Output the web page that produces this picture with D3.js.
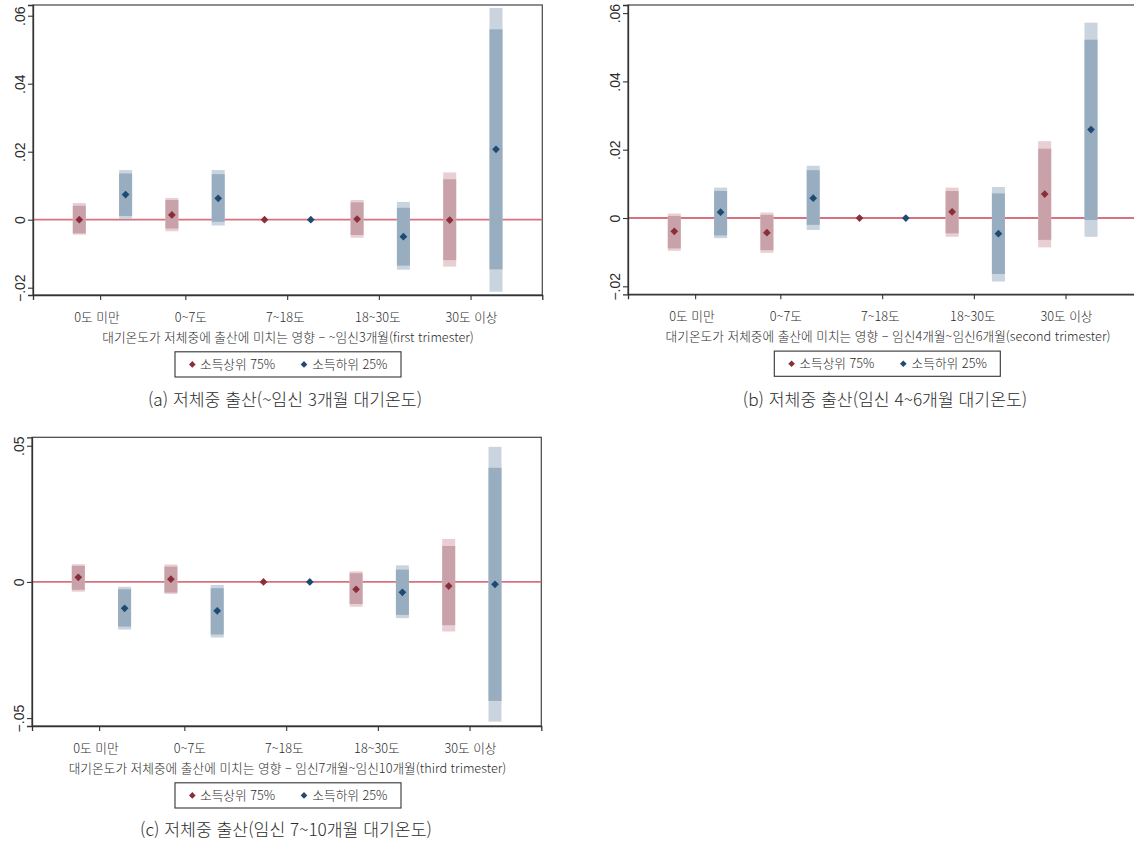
<!DOCTYPE html>
<html lang="ko">
<head>
<meta charset="utf-8">
<script src="https://cdn.jsdelivr.net/npm/d3@7"></script>
<style>
  html, body { margin: 0; padding: 0; background: #fff; }
  svg { display: block; }
  .kr { font-family: "Noto Sans CJK KR", "Noto Sans", sans-serif; font-weight: 300; fill: #2b2b2b; }
  .num { font-family: "Liberation Sans", Arial, sans-serif; fill: #2b2b2b; }
</style>
</head>
<body>
<svg id="chart" width="1134" height="843"></svg>
<script>
// Temperature bins (x-axis categories) and where their ticks / labels sit on the slot axis
const categories = ["0도 미만", "0~7도", "7~18도", "18~30도", "30도 이상"];
const categoryTickPos = [1.45, 3.29, 5.49, 7.47, 9.45];
const categoryLabelPos = [1.38, 3.41, 5.45, 7.45, 9.47];

const seriesNames = ["소득상위 75%", "소득하위 25%"];

// Panel (a): first trimester — estimate, inner CI [lo, hi], outer CI [lo, hi]; reference bin has no CI
const aHighEst   = [0.0000, 0.0014, 0.0000, 0.0002, -0.0001];
const aHighInner = [[-0.0040, 0.0041], [-0.0026, 0.0058], null, [-0.0045, 0.0051], [-0.0119, 0.0119]];
const aHighOuter = [[-0.0044, 0.0049], [-0.0034, 0.0064], null, [-0.0053, 0.0058], [-0.0138, 0.0139]];
const aLowEst    = [0.0074, 0.0063, 0.0000, -0.0050, 0.0207];
const aLowInner  = [[0.0011, 0.0136], [-0.0006, 0.0134], null, [-0.0135, 0.0035], [-0.0146, 0.0560]];
const aLowOuter  = [[0.0002, 0.0146], [-0.0017, 0.0146], null, [-0.0147, 0.0052], [-0.0212, 0.0623]];

// Panel (b): second trimester
const bHighEst   = [-0.0039, -0.0043, 0.0000, 0.0018, 0.0070];
const bHighInner = [[-0.0089, 0.0006], [-0.0094, 0.0009], null, [-0.0045, 0.0079], [-0.0064, 0.0203]];
const bHighOuter = [[-0.0096, 0.0013], [-0.0102, 0.0016], null, [-0.0055, 0.0089], [-0.0086, 0.0225]];
const bLowEst    = [0.0017, 0.0058, 0.0000, -0.0046, 0.0259];
const bLowInner  = [[-0.0051, 0.0079], [-0.0020, 0.0140], null, [-0.0164, 0.0072], [-0.0006, 0.0522]];
const bLowOuter  = [[-0.0059, 0.0089], [-0.0035, 0.0153], null, [-0.0186, 0.0091], [-0.0055, 0.0572]];

// Panel (c): third trimester
const cHighEst   = [0.0017, 0.0010, 0.0000, -0.0027, -0.0015];
const cHighInner = [[-0.0029, 0.0059], [-0.0039, 0.0056], null, [-0.0081, 0.0032], [-0.0159, 0.0132]];
const cHighOuter = [[-0.0036, 0.0065], [-0.0044, 0.0064], null, [-0.0091, 0.0039], [-0.0182, 0.0158]];
const cLowEst    = [-0.0097, -0.0106, 0.0000, -0.0038, -0.0009];
const cLowInner  = [[-0.0164, -0.0027], [-0.0193, -0.0023], null, [-0.0121, 0.0045], [-0.0437, 0.0419]];
const cLowOuter  = [[-0.0175, -0.0018], [-0.0204, -0.0011], null, [-0.0133, 0.0061], [-0.0513, 0.0496]];

// Axis titles and captions
const axisTitles = [
  "대기온도가 저체중에 출산에 미치는 영향 – ~임신3개월(first trimester)",
  "대기온도가 저체중에 출산에 미치는 영향 – 임신4개월~임신6개월(second trimester)",
  "대기온도가 저체중에 출산에 미치는 영향 – 임신7개월~임신10개월(third trimester)"
];
const captions = [
  "(a) 저체중 출산(~임신 3개월 대기온도)",
  "(b) 저체중 출산(임신 4~6개월 대기온도)",
  "(c) 저체중 출산(임신 7~10개월 대기온도)"
];
const aYTicks = [-0.02, 0, 0.02, 0.04, 0.06];
const bYTicks = [-0.02, 0, 0.02, 0.04, 0.06];
const cYTicks = [-0.05, 0, 0.05];

// Colours
const palette = {
  high: { marker: "#8a2e3b", inner: "#c9a2a9", outer: "#e8cfd3" },
  low:  { marker: "#1f4a72", inner: "#98adbf", outer: "#c9d4df" },
  zero: "#d9707f",
  frame: "#444"
};

// Layout of the three panels
const panels = [
  { est: [aHighEst, aLowEst], inner: [aHighInner, aLowInner], outer: [aHighOuter, aLowOuter],
    yTicks: aYTicks, yDomain: [-0.02215, 0.06315],
    box: { l: 33, r: 542.3, t: 5, b: 295 },
    titleX: 288, legendX: 175, captionX: 285, captionY: 399.5 },
  { est: [bHighEst, bLowEst], inner: [bHighInner, bLowInner], outer: [bHighOuter, bLowOuter],
    yTicks: bYTicks, yDomain: [-0.02234, 0.06237],
    box: { l: 628, r: 1137.3, t: 5, b: 294.3 },
    titleX: 888, legendX: 774.3, captionX: 885, captionY: 400 },
  { est: [cHighEst, cLowEst], inner: [cHighInner, cLowInner], outer: [cHighOuter, cLowOuter],
    yTicks: cYTicks, yDomain: [-0.0529, 0.0531],
    box: { l: 32, r: 541.3, t: 437.3, b: 726 },
    titleX: 287.5, legendX: 175, captionX: 286, captionY: 830 }
];

const svg = d3.select("#chart");
const diamond = d3.symbol().type(d3.symbolSquare).size(30);
const fmtY = v => v === 0 ? "0" : d3.format(".2f")(v).replace("0.", ".");
const bandHalf = 6.5;

panels.forEach((p, pi) => {
  const B = p.box;
  const x = d3.scaleLinear().domain([0, 11]).range([B.l, B.r]);
  const y = d3.scaleLinear().domain(p.yDomain).range([B.b, B.t]);
  const g = svg.append("g");

  // plot frame
  g.append("rect")
    .attr("x", B.l).attr("y", B.t)
    .attr("width", B.r - B.l).attr("height", B.b - B.t)
    .attr("fill", "#fff").attr("stroke", palette.frame).attr("stroke-width", 1.2);

  // reference line at zero
  g.append("line")
    .attr("x1", B.l).attr("x2", B.r)
    .attr("y1", y(0)).attr("y2", y(0))
    .attr("stroke", palette.zero).attr("stroke-width", 1.8);

  // confidence bands and point estimates: slot 2i+1 = high income, 2i+2 = low income
  ["high", "low"].forEach((key, si) => {
    const col = palette[key];
    const rows = categories.map((c, i) => ({
      slot: 2 * i + 1 + si,
      est: p.est[si][i],
      inner: p.inner[si][i],
      outer: p.outer[si][i]
    }));
    const withCI = rows.filter(r => r.inner);
    g.selectAll(null).data(withCI).join("rect")
      .attr("x", d => x(d.slot) - bandHalf).attr("width", bandHalf * 2)
      .attr("y", d => y(d.outer[1])).attr("height", d => y(d.outer[0]) - y(d.outer[1]))
      .attr("fill", col.outer);
    g.selectAll(null).data(withCI).join("rect")
      .attr("x", d => x(d.slot) - bandHalf).attr("width", bandHalf * 2)
      .attr("y", d => y(d.inner[1])).attr("height", d => y(d.inner[0]) - y(d.inner[1]))
      .attr("fill", col.inner);
    g.selectAll(null).data(rows).join("path")
      .attr("d", diamond)
      .attr("transform", d => `translate(${x(d.slot)},${y(d.est)}) rotate(45)`)
      .attr("fill", col.marker);
  });

  // y axis
  const ya = g.append("g").attr("transform", `translate(${B.l},0)`)
    .call(d3.axisLeft(y).tickValues(p.yTicks).tickSize(5).tickFormat(fmtY));
  ya.select(".domain").attr("stroke", "#333").attr("stroke-width", 1.3);
  ya.selectAll(".tick line").attr("stroke", "#333").attr("stroke-width", 1.1);
  ya.selectAll(".tick text")
    .attr("class", "num").attr("font-size", 14)
    .attr("transform", "rotate(-90)")
    .attr("x", 0).attr("y", -8).attr("dy", 0)
    .attr("text-anchor", "middle");

  // x axis ticks
  const xa = g.append("g").attr("transform", `translate(0,${B.b})`)
    .call(d3.axisBottom(x).tickValues(categoryTickPos).tickSize(5).tickFormat(""));
  xa.select(".domain").attr("stroke", "#333").attr("stroke-width", 1.3);
  xa.selectAll(".tick line").attr("stroke", "#333").attr("stroke-width", 1.1);

  // category labels
  g.selectAll(null).data(categories).join("text")
    .attr("class", "kr").attr("font-size", 12.7)
    .attr("x", (d, i) => x(categoryLabelPos[i])).attr("y", B.b + 22.7)
    .attr("dy", "0.35em").attr("text-anchor", "middle")
    .text(d => d);

  // axis title
  g.append("text").attr("class", "kr").attr("font-size", 12.7)
    .attr("x", p.titleX).attr("y", B.b + 42.2).attr("dy", "0.35em")
    .attr("text-anchor", "middle").text(axisTitles[pi]);

  // legend
  const L = g.append("g").attr("transform", `translate(${p.legendX},${B.b + 56.8})`);
  L.append("rect").attr("width", 226).attr("height", 25.2)
    .attr("fill", "#fff").attr("stroke", "#333").attr("stroke-width", 1.1);
  [["high", 17.3, 25], ["low", 129, 137.3]].forEach(([key, mx, tx], si) => {
    L.append("path").attr("d", d3.symbol().type(d3.symbolSquare).size(22))
      .attr("transform", `translate(${mx},12.6) rotate(45)`)
      .attr("fill", palette[key].marker);
    L.append("text").attr("class", "kr").attr("font-size", 12.7)
      .attr("x", tx).attr("y", 12.6).attr("dy", "0.35em").text(seriesNames[si]);
  });

  // caption
  svg.append("text").attr("class", "kr").attr("font-size", 17.2)
    .attr("x", p.captionX).attr("y", p.captionY).attr("dy", "0.35em")
    .attr("text-anchor", "middle").text(captions[pi]);
});
</script>
</body>
</html>
